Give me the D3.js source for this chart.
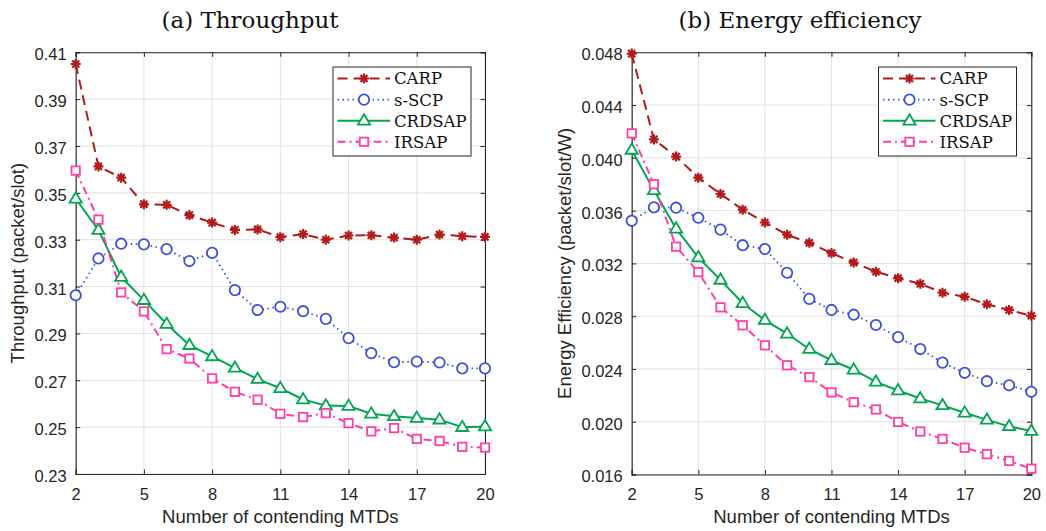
<!DOCTYPE html>
<html>
<head>
<meta charset="utf-8">
<script src="https://cdn.jsdelivr.net/npm/d3@7"></script>
<style>
  html, body { margin: 0; padding: 0; background: #fff; }
  svg { display: block; }
</style>
</head>
<body>
<svg id="fig" width="1046" height="531"></svg>
<script>
// Number of contending MTDs
const mtds = [2,3,4,5,6,7,8,9,10,11,12,13,14,15,16,17,18,19,20];
const xTicks = [2,5,8,11,14,17,20];
const seriesNames = ["CARP", "s-SCP", "CRDSAP", "IRSAP"];

// (a) Throughput (packet/slot)
const thrCARP   = [0.4050,0.3613,0.3565,0.3451,0.3449,0.3405,0.3373,0.3342,0.3344,0.3311,0.3324,0.3300,0.3318,0.3319,0.3309,0.3300,0.3322,0.3315,0.3312];
const thrSSCP   = [0.3063,0.3220,0.3283,0.3280,0.3260,0.3209,0.3244,0.3085,0.3000,0.3014,0.2995,0.2962,0.2880,0.2816,0.2777,0.2780,0.2776,0.2751,0.2751];
const thrCRDSAP = [0.3475,0.3341,0.3141,0.3042,0.2940,0.2850,0.2802,0.2753,0.2705,0.2666,0.2618,0.2592,0.2590,0.2557,0.2546,0.2539,0.2532,0.2500,0.2503];
const thrIRSAP  = [0.3595,0.3386,0.3075,0.2994,0.2833,0.2793,0.2708,0.2651,0.2617,0.2557,0.2543,0.2560,0.2517,0.2482,0.2496,0.2450,0.2441,0.2416,0.2413];
const thrTicks  = [0.23,0.25,0.27,0.29,0.31,0.33,0.35,0.37,0.39,0.41];

// (b) Energy efficiency (packet/slot/W)
const eeCARP   = [0.04790,0.04140,0.04010,0.03850,0.03726,0.03607,0.03510,0.03417,0.03356,0.03278,0.03206,0.03137,0.03088,0.03045,0.02978,0.02947,0.02890,0.02847,0.02803];
const eeSSCP   = [0.03523,0.03625,0.03622,0.03546,0.03456,0.03338,0.03309,0.03129,0.02931,0.02847,0.02811,0.02733,0.02641,0.02551,0.02448,0.02371,0.02307,0.02276,0.02227];
const eeCRDSAP = [0.04060,0.03754,0.03463,0.03245,0.03075,0.02898,0.02770,0.02667,0.02551,0.02466,0.02394,0.02302,0.02237,0.02176,0.02124,0.02068,0.02014,0.01965,0.01929];
const eeIRSAP  = [0.04186,0.03800,0.03327,0.03134,0.02867,0.02731,0.02579,0.02428,0.02338,0.02222,0.02148,0.02093,0.01998,0.01926,0.01870,0.01803,0.01754,0.01703,0.01644];
const eeTicks  = [0.016,0.020,0.024,0.028,0.032,0.036,0.040,0.044,0.048];

// Line and marker style per scheme
const styles = {
  "CARP":   { color: "#b31b1b", dash: "10,6",    width: 2,   marker: "asterisk" },
  "s-SCP":  { color: "#3d50d9", dash: "1.5,3.5", width: 1.8, marker: "circle" },
  "CRDSAP": { color: "#00a650", dash: null,      width: 2,   marker: "triangle" },
  "IRSAP":  { color: "#ff3fa6", dash: "8,4,2,4", width: 2,   marker: "square" }
};

const svg = d3.select("#fig");
const axisColor = "#262626";
const sansFont = "'Liberation Sans', Arial, Helvetica, sans-serif";
const serifFont = "'DejaVu Serif', 'Liberation Serif', serif";

function drawMarker(g, type, cx, cy, color) {
  if (type === "circle") {
    g.append("circle").attr("cx", cx).attr("cy", cy).attr("r", 5.2)
      .attr("fill", "#fff").attr("stroke", color).attr("stroke-width", 1.8);
  } else if (type === "square") {
    const s = 8.4;
    g.append("rect").attr("x", cx - s / 2).attr("y", cy - s / 2).attr("width", s).attr("height", s)
      .attr("fill", "#fff").attr("stroke", color).attr("stroke-width", 1.8);
  } else if (type === "triangle") {
    const r = 6.4;
    const pts = [[cx, cy - r], [cx + r * 0.95, cy + r * 0.6], [cx - r * 0.95, cy + r * 0.6]];
    g.append("path").attr("d", "M" + pts.map(p => p.join(",")).join("L") + "Z")
      .attr("fill", "#fff").attr("stroke", color).attr("stroke-width", 1.8)
      .attr("stroke-linejoin", "miter");
  } else if (type === "asterisk") {
    const r = 5;
    const d = [];
    for (let k = 0; k < 4; k++) {
      const a = k * Math.PI / 4;
      d.push(`M${cx - r * Math.cos(a)},${cy - r * Math.sin(a)}L${cx + r * Math.cos(a)},${cy + r * Math.sin(a)}`);
    }
    g.append("path").attr("d", d.join("")).attr("fill", "none")
      .attr("stroke", color).attr("stroke-width", 2.2).attr("stroke-linecap", "butt");
  }
}

function panel(cfg) {
  const { left, right, top, bottom, yDomain, yTicks, yFmt, series, title, titleX, yLabel, yLabelX, legendX } = cfg;
  const x = d3.scaleLinear().domain([2, 20]).range([left, right]);
  const y = d3.scaleLinear().domain(yDomain).range([bottom, top]);
  const g = svg.append("g");

  // grid
  const grid = g.append("g");
  grid.selectAll("line.vx").data(xTicks).join("line")
    .attr("x1", d => x(d)).attr("x2", d => x(d)).attr("y1", top).attr("y2", bottom)
    .attr("stroke", "#e2e2e2").attr("stroke-width", 1);
  grid.selectAll("line.hy").data(yTicks).join("line")
    .attr("x1", left).attr("x2", right).attr("y1", d => y(d)).attr("y2", d => y(d))
    .attr("stroke", "#e2e2e2").attr("stroke-width", 1);

  // axes with inward ticks on all four sides
  const axB = g.append("g").attr("transform", `translate(0,${bottom})`)
    .call(d3.axisBottom(x).tickValues(xTicks).tickSize(-4.5).tickPadding(14).tickFormat(d3.format("d")));
  const axT = g.append("g").attr("transform", `translate(0,${top})`)
    .call(d3.axisTop(x).tickValues(xTicks).tickSize(-4.5).tickFormat(""));
  const axL = g.append("g").attr("transform", `translate(${left},0)`)
    .call(d3.axisLeft(y).tickValues(yTicks).tickSize(-4.5).tickPadding(9).tickFormat(d3.format(yFmt)));
  const axR = g.append("g").attr("transform", `translate(${right},0)`)
    .call(d3.axisRight(y).tickValues(yTicks).tickSize(-4.5).tickFormat(""));
  [axB, axT, axL, axR].forEach(a => {
    a.select(".domain").attr("stroke", axisColor).attr("stroke-width", 1.1);
    a.selectAll(".tick line").attr("stroke", axisColor).attr("stroke-width", 1);
    a.selectAll(".tick text").attr("fill", axisColor).style("font-family", sansFont).style("font-size", "16.5px");
  });
  axB.selectAll(".tick text").attr("dy", "0.71em");
  axL.selectAll(".tick text").attr("dy", "0.45em");

  // series
  const line = d3.line().x((d, i) => x(mtds[i])).y(d => y(d));
  series.forEach(([name, vals]) => {
    const st = styles[name];
    g.append("path").datum(vals).attr("d", line).attr("fill", "none")
      .attr("stroke", st.color).attr("stroke-width", st.width)
      .attr("stroke-dasharray", st.dash).attr("stroke-linejoin", "round");
  });
  series.forEach(([name, vals]) => {
    const st = styles[name];
    const mg = g.append("g");
    vals.forEach((v, i) => drawMarker(mg, st.marker, x(mtds[i]), y(v), st.color));
  });

  // legend
  const lg = g.append("g");
  const lx = legendX, ly = 67, lw = 138, lh = 89;
  lg.append("rect").attr("x", lx).attr("y", ly).attr("width", lw).attr("height", lh)
    .attr("fill", "#fff").attr("stroke", axisColor).attr("stroke-width", 1);
  seriesNames.forEach((name, i) => {
    const st = styles[name];
    const cy = ly + 11.5 + i * 21.1;
    lg.append("line").attr("x1", lx + 4.5).attr("x2", lx + 57).attr("y1", cy).attr("y2", cy)
      .attr("stroke", st.color).attr("stroke-width", st.width).attr("stroke-dasharray", st.dash);
    drawMarker(lg, st.marker, lx + 31, cy, st.color);
    lg.append("text").attr("x", lx + 61).attr("y", cy).attr("dy", "0.36em")
      .style("font-family", serifFont).style("font-size", "16.5px").attr("fill", "#111")
      .text(name);
  });

  // titles and labels
  svg.append("text").attr("x", titleX).attr("y", 27.5).attr("text-anchor", "middle")
    .style("font-family", serifFont).style("font-size", "23px").attr("fill", "#111").text(title);
  svg.append("text").attr("x", (left + right) / 2).attr("y", 523).attr("text-anchor", "middle")
    .style("font-family", sansFont).style("font-size", "18.5px").attr("fill", axisColor)
    .text("Number of contending MTDs");
  svg.append("text").attr("transform", `translate(${yLabelX},${(top + bottom) / 2}) rotate(-90)`)
    .attr("text-anchor", "middle")
    .style("font-family", sansFont).style("font-size", "18.5px").attr("fill", axisColor)
    .text(yLabel);
}

panel({
  left: 75.7, right: 485, top: 52.3, bottom: 474,
  yDomain: [0.23, 0.41], yTicks: thrTicks, yFmt: ".2f",
  series: [["CARP", thrCARP], ["s-SCP", thrSSCP], ["CRDSAP", thrCRDSAP], ["IRSAP", thrIRSAP]],
  title: "(a) Throughput", titleX: 250,
  yLabel: "Throughput (packet/slot)", yLabelX: 24, legendX: 333
});

panel({
  left: 631.7, right: 1031.3, top: 52.3, bottom: 474.5,
  yDomain: [0.016, 0.048], yTicks: eeTicks, yFmt: ".3f",
  series: [["CARP", eeCARP], ["s-SCP", eeSSCP], ["CRDSAP", eeCRDSAP], ["IRSAP", eeIRSAP]],
  title: "(b) Energy efficiency", titleX: 800,
  yLabel: "Energy Efficiency (packet/slot/W)", yLabelX: 571, legendX: 878.5
});
</script>
</body>
</html>
